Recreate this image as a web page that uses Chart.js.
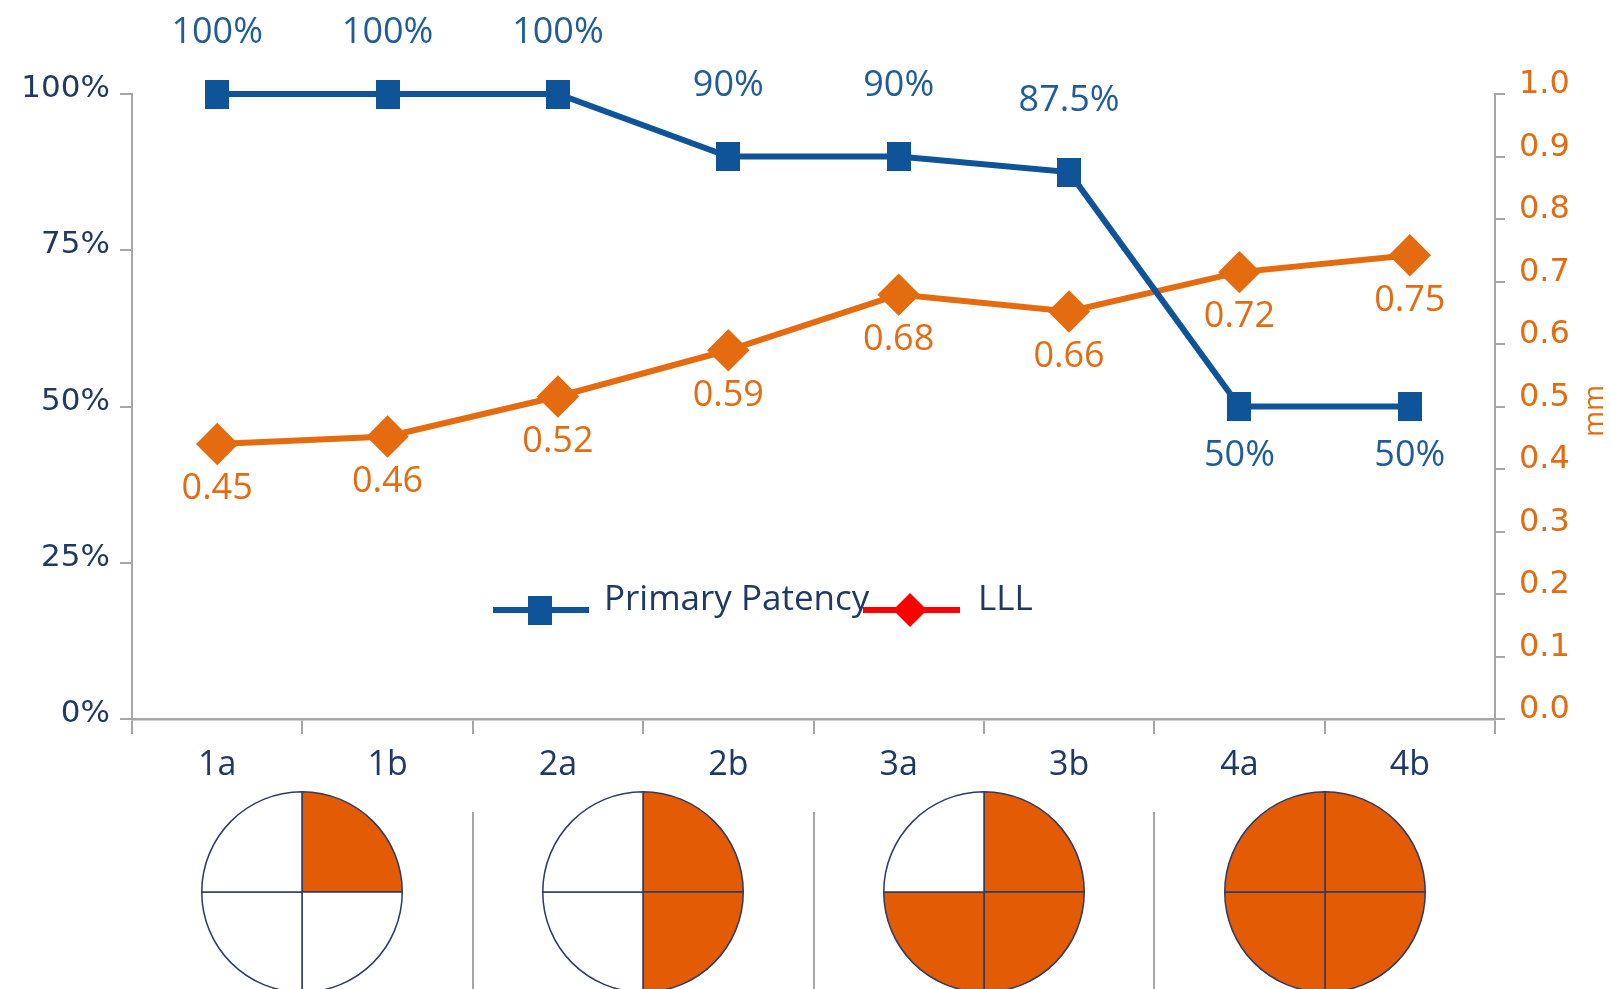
<!DOCTYPE html>
<html>
<head>
<meta charset="utf-8">
<script src="https://cdn.jsdelivr.net/npm/chart.js@4.4.0/dist/chart.umd.min.js"></script>
<style>
  html, body { margin: 0; padding: 0; background: #fff; overflow: hidden; }
  #wrap { position: relative; width: 1611px; height: 989px; }
  #chart-main { position: absolute; left: 0; top: 0; }
  .pie { position: absolute; }
</style>
</head>
<body>
<div id="wrap">
  <canvas id="chart-main" width="1611" height="989"></canvas>
  <canvas class="pie" id="pie-0" width="202" height="202"></canvas>
  <canvas class="pie" id="pie-1" width="202" height="202"></canvas>
  <canvas class="pie" id="pie-2" width="202" height="202"></canvas>
  <canvas class="pie" id="pie-3" width="202" height="202"></canvas>
</div>
<script>
const CATEGORIES = ["1a", "1b", "2a", "2b", "3a", "3b", "4a", "4b"];
const PATENCY = [100, 100, 100, 90, 90, 87.5, 50, 50];
const PATENCY_LABELS = ["100%", "100%", "100%", "90%", "90%", "87.5%", "50%", "50%"];
const LLL = [0.44, 0.452, 0.516, 0.59, 0.679, 0.652, 0.715, 0.742];
const LLL_LABELS = ["0.45", "0.46", "0.52", "0.59", "0.68", "0.66", "0.72", "0.75"];
const QUADRANTS_FILLED = [1, 2, 3, 4];

const BLUE = "#0f5499";
const BLUE_TEXT = "#1f5c99";
const ORANGE = "#e56b10";
const PIE_ORANGE = "#e35b05";
const NAVY = "#1f3864";
const GRAY = "#a6a6a6";
const NUM_FONT = "DejaVu Sans";
const TXT_FONT = "Open Sans";

// tall square marker like the original
function makeSquare(w, h, color) {
  const c = document.createElement("canvas");
  c.width = w; c.height = h;
  const g = c.getContext("2d");
  g.fillStyle = color;
  g.fillRect(0, 0, w, h);
  return c;
}
const squareMarker = makeSquare(24, 29, BLUE);

const dataLabels = {
  id: "dataLabels",
  afterDatasetsDraw(chart) {
    const ctx = chart.ctx;
    ctx.save();
    ctx.font = `36px "${TXT_FONT}"`;
    ctx.textAlign = "center";
    ctx.textBaseline = "middle";
    chart.getDatasetMeta(0).data.forEach((pt, i) => {
      ctx.fillStyle = BLUE_TEXT;
      // above the point, but kept inside the canvas top margin
      const y = PATENCY[i] >= 60 ? Math.max(pt.y - 71, 33) : pt.y + 49;
      ctx.fillText(PATENCY_LABELS[i], pt.x, y);
    });
    chart.getDatasetMeta(1).data.forEach((pt, i) => {
      ctx.fillStyle = ORANGE;
      ctx.fillText(LLL_LABELS[i], pt.x, pt.y + 45);
    });
    ctx.restore();
  },
};

const extras = {
  id: "extras",
  afterDraw(chart) {
    const ctx = chart.ctx;
    const xs = chart.scales.x;
    ctx.save();

    // separators between the groups under the axis
    ctx.strokeStyle = GRAY;
    ctx.lineWidth = 2;
    [1, 3, 5].forEach(i => {
      const x = Math.round((xs.getPixelForValue(i) + xs.getPixelForValue(i + 1)) / 2);
      ctx.beginPath();
      ctx.moveTo(x, 812);
      ctx.lineTo(x, 989);
      ctx.stroke();
    });

    // right axis title, reading upward
    ctx.fillStyle = ORANGE;
    ctx.font = `28px "${TXT_FONT}"`;
    ctx.textAlign = "center";
    ctx.textBaseline = "middle";
    ctx.translate(1595, 411);
    ctx.rotate(-Math.PI / 2);
    ctx.fillText("mm", 0, 0);
    ctx.setTransform(1, 0, 0, 1, 0, 0);

    // legend
    ctx.lineWidth = 6;
    ctx.strokeStyle = BLUE;
    ctx.beginPath(); ctx.moveTo(493, 610); ctx.lineTo(589, 610); ctx.stroke();
    ctx.drawImage(squareMarker, 540 - 12, 610 - 14.5);
    ctx.strokeStyle = "#ff0000";
    ctx.beginPath(); ctx.moveTo(863, 610); ctx.lineTo(960, 610); ctx.stroke();
    ctx.fillStyle = "#ff0000";
    ctx.beginPath();
    ctx.moveTo(910 - 17, 610); ctx.lineTo(910, 610 - 17);
    ctx.lineTo(910 + 17, 610); ctx.lineTo(910, 610 + 17);
    ctx.closePath(); ctx.fill();
    ctx.fillStyle = NAVY;
    ctx.font = `35px "${TXT_FONT}"`;
    ctx.textAlign = "left";
    ctx.fillText("Primary Patency", 604, 600);
    ctx.fillText("LLL", 978, 600);

    ctx.restore();
  },
};

const mainChart = new Chart(document.getElementById("chart-main"), {
  type: "line",
  data: {
    labels: CATEGORIES,
    datasets: [
      {
        label: "Primary Patency",
        data: PATENCY,
        yAxisID: "y",
        borderColor: BLUE,
        backgroundColor: BLUE,
        borderWidth: 6,
        pointStyle: squareMarker,
        tension: 0,
        clip: false,
      },
      {
        label: "LLL",
        data: LLL,
        yAxisID: "y2",
        borderColor: ORANGE,
        backgroundColor: ORANGE,
        borderWidth: 6,
        pointStyle: "rectRot",
        pointRadius: 17,
        tension: 0,
        clip: false,
      },
    ],
  },
  options: {
    responsive: false,
    animation: false,
    devicePixelRatio: 1,
    events: [],
    layout: { padding: { top: 94, left: 0, right: 0, bottom: 0 } },
    plugins: { legend: { display: false }, tooltip: { enabled: false } },
    scales: {
      x: {
        offset: true,
        grid: { offset: true, drawOnChartArea: false, color: GRAY, lineWidth: 2, tickLength: 15 },
        border: { color: GRAY, width: 2.5 },
        ticks: { color: NAVY, font: { family: TXT_FONT, size: 34 }, padding: 11, maxRotation: 0 },
        afterFit(scale) { scale.height = 270; },
      },
      y: {
        position: "left",
        min: 0, max: 100,
        grid: { drawOnChartArea: false, color: GRAY, lineWidth: 2, tickLength: 12 },
        border: { color: GRAY, width: 2 },
        ticks: {
          stepSize: 25, color: NAVY, padding: 10, labelOffset: -5,
          font: { family: NUM_FONT, size: 31 },
          callback: v => v + "%",
        },
        afterFit(scale) { scale.width = 132; },
      },
      y2: {
        position: "right",
        min: 0, max: 1,
        grid: { drawOnChartArea: false, color: GRAY, lineWidth: 2, tickLength: 10 },
        border: { color: GRAY, width: 2 },
        ticks: {
          stepSize: 0.1, color: ORANGE, padding: 14, labelOffset: -9,
          font: { family: NUM_FONT, size: 32 },
          callback: v => v.toFixed(1),
        },
        afterFit(scale) { scale.width = 116; },
      },
    },
  },
  plugins: [dataLabels, extras],
});

// quarter-filled circles under each pair of categories
QUADRANTS_FILLED.forEach((filled, i) => {
  const xs = mainChart.scales.x;
  const cx = (xs.getPixelForValue(2 * i) + xs.getPixelForValue(2 * i + 1)) / 2;
  const el = document.getElementById(`pie-${i}`);
  el.style.left = (cx - 101) + "px";
  el.style.top = (892 - 101) + "px";
  new Chart(el, {
    type: "pie",
    data: {
      labels: ["q1", "q2", "q3", "q4"],
      datasets: [{
        data: [1, 1, 1, 1],
        backgroundColor: [0, 1, 2, 3].map(q => q < filled ? PIE_ORANGE : "#ffffff"),
        borderColor: "#2c3b64",
        borderWidth: 1.5,
      }],
    },
    options: {
      responsive: false,
      animation: false,
      devicePixelRatio: 1,
      events: [],
      plugins: { legend: { display: false }, tooltip: { enabled: false } },
    },
  });
});
</script>
</body>
</html>
